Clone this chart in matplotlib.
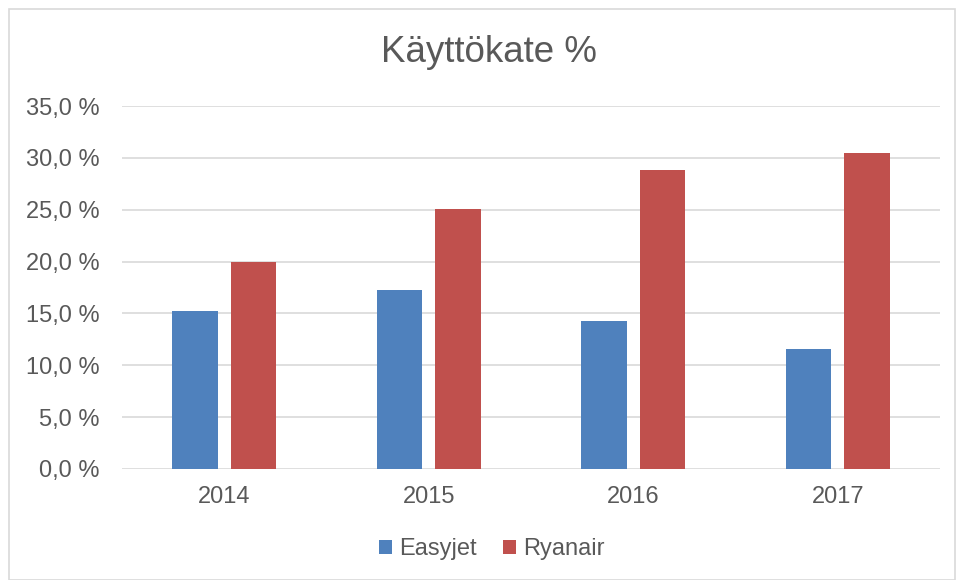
import matplotlib.pyplot as plt
import numpy as np
from matplotlib.patches import Rectangle

plt.rcParams["font.family"] = ["Liberation Sans", "DejaVu Sans"]

years = ["2014", "2015", "2016", "2017"]
easyjet = [15.2, 17.3, 14.3, 11.6]
ryanair = [20.0, 25.1, 28.8, 30.5]
y_ticks = [0, 5, 10, 15, 20, 25, 30, 35]

text_color = "#595959"
blue = "#4F81BD"
red = "#C0504D"

fig = plt.figure(figsize=(9.6, 5.8), dpi=100)
ax = fig.add_axes([122 / 960, 1 - 469 / 580, (940 - 122) / 960, (469 - 106) / 580])

x = np.arange(len(years))
width = 0.222
offset = 0.143
ax.bar(x - offset, easyjet, width, color=blue, label="Easyjet", zorder=3)
ax.bar(x + offset, ryanair, width, color=red, label="Ryanair", zorder=3)

ax.set_xlim(-0.5, len(years) - 0.5)
ax.set_ylim(0, 35)
ax.set_yticks(y_ticks)
ax.set_yticklabels([f"{v:.1f}".replace(".", ",") + " %" for v in y_ticks])
ax.set_xticks(x)
ax.set_xticklabels(years)
ax.tick_params(axis="both", length=0, labelsize=17, colors=text_color)
ax.tick_params(axis="y", pad=16)
ax.tick_params(axis="x", pad=12)
ax.yaxis.grid(True, color="#D9D9D9", linewidth=1.2, zorder=0)
for spine in ax.spines.values():
    spine.set_visible(False)

fig.text(489 / 960, 1 - 53 / 580, "Käyttökate %", ha="center", va="center",
         fontsize=26.5, color=text_color)

fig.legend(loc="center", bbox_to_anchor=(492 / 960, 1 - 549 / 580), ncol=2,
           frameon=False, fontsize=17, handlelength=0.55, handleheight=0.55,
           handletextpad=0.3, columnspacing=1.1, labelcolor=text_color)

fig.patches.append(Rectangle((9 / 960, 0.0), 946 / 960, 1 - 9 / 580,
                             transform=fig.transFigure, fill=False,
                             edgecolor="#D9D9D9", linewidth=1.2))

fig.savefig("out.png", dpi=100)
